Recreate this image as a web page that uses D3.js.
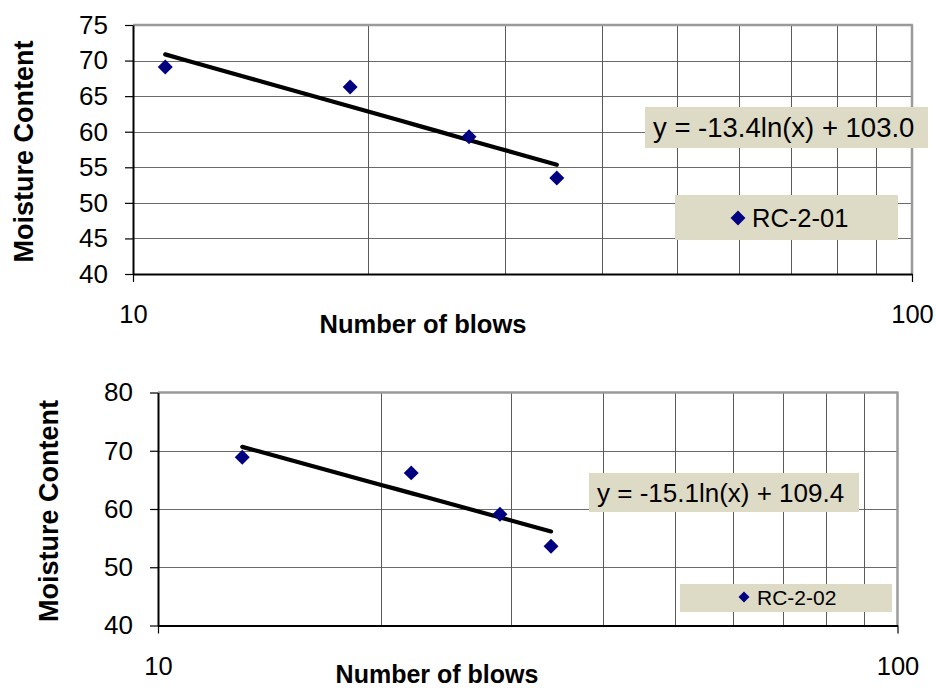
<!DOCTYPE html>
<html>
<head>
<meta charset="utf-8">
<script src="https://cdn.jsdelivr.net/npm/d3@7"></script>
<style>
  html, body { margin: 0; padding: 0; background: #ffffff; }
  svg { display: block; }
  text { font-family: Arial, "Liberation Sans", sans-serif; fill: #000; }
</style>
</head>
<body>
<svg id="chart" width="936" height="688"></svg>
<script>
// Liquid limit test results: moisture content vs number of blows (log scale)
const sampleNames = ["RC-2-01", "RC-2-02"];
const blows1 = [11, 19, 27, 35];
const moisture1 = [69.1, 66.3, 59.3, 53.5];
const blows2 = [13, 22, 29, 34];
const moisture2 = [68.9, 66.2, 59.1, 53.6];
// logarithmic trendline y = slope * ln(x) + intercept
const trendSlope = [-13.4, -15.1];
const trendIntercept = [103.0, 109.4];
const yTicks1 = [40, 45, 50, 55, 60, 65, 70, 75];
const yTicks2 = [40, 50, 60, 70, 80];
const xDomain = [10, 100];
const xTickLabels = [10, 100];
const xTitle = "Number of blows";
const yTitle = "Moisture Content";

const svg = d3.select("#chart");

const panels = [
  {
    name: sampleNames[0], blows: blows1, moisture: moisture1,
    slope: trendSlope[0], intercept: trendIntercept[0], yTicks: yTicks1,
    left: 133, right: 912, top: 25, bottom: 274,
    yTitleX: 33, xTitleX: 423, xTitleY: 333, xTitleFont: 25.5,
    eqBox: [645, 107, 283, 41], eqFont: 27.5, eqX: 653, eqY: 137,
    legBox: [675, 195, 223, 45], legFont: 25.5, legSym: [738, 218, 110], legTextX: 752, legTextY: 227
  },
  {
    name: sampleNames[1], blows: blows2, moisture: moisture2,
    slope: trendSlope[1], intercept: trendIntercept[1], yTicks: yTicks2,
    left: 158, right: 897.5, top: 392.5, bottom: 625.5,
    yTitleX: 58, xTitleX: 437, xTitleY: 682.5, xTitleFont: 25,
    eqBox: [589, 473, 270, 39], eqFont: 26, eqX: 597, eqY: 502,
    legBox: [680, 584, 212, 28], legFont: 21, legSym: [744, 597, 60], legTextX: 757, legTextY: 605
  }
];

const diamond = size => d3.symbol().type(d3.symbolSquare).size(size)();

panels.forEach(p => {
  const x = d3.scaleLog().domain(xDomain).range([p.left, p.right]);
  const y = d3.scaleLinear().domain(d3.extent(p.yTicks)).range([p.bottom, p.top]);
  const g = svg.append("g");

  // horizontal grid
  g.append("g").selectAll("line")
    .data(p.yTicks.filter(v => v > p.yTicks[0] && v < p.yTicks[p.yTicks.length - 1]))
    .join("line")
    .attr("x1", p.left).attr("x2", p.right)
    .attr("y1", d => Math.round(y(d)) + 0.5).attr("y2", d => Math.round(y(d)) + 0.5)
    .attr("stroke", "#6a6a6a").attr("stroke-width", 1);

  // vertical grid at minor log ticks
  g.append("g").selectAll("line")
    .data(x.ticks().filter(v => v > xDomain[0] && v < xDomain[1]))
    .join("line")
    .attr("x1", d => Math.round(x(d)) + 0.5).attr("x2", d => Math.round(x(d)) + 0.5)
    .attr("y1", p.top).attr("y2", p.bottom)
    .attr("stroke", "#5a5a5a").attr("stroke-width", 1);

  // plot frame: top and right in grey
  g.append("line").attr("x1", p.left).attr("x2", p.right + 1)
    .attr("y1", p.top).attr("y2", p.top)
    .attr("stroke", "#9a9a9a").attr("stroke-width", 2.5);
  g.append("line").attr("x1", p.right).attr("x2", p.right)
    .attr("y1", p.top).attr("y2", p.bottom)
    .attr("stroke", "#9a9a9a").attr("stroke-width", 2.5);

  // y axis
  const yAxis = g.append("g")
    .attr("transform", `translate(${p.left},0)`)
    .call(d3.axisLeft(y).tickValues(p.yTicks).tickSize(8).tickSizeOuter(0).tickPadding(17).tickFormat(d3.format("d")));
  yAxis.select(".domain").attr("stroke", "#000").attr("stroke-width", 2);
  yAxis.selectAll(".tick line").attr("stroke", "#000").attr("stroke-width", 1.2);
  yAxis.selectAll(".tick text").attr("font-size", 26).attr("font-family", "Arial, 'Liberation Sans', sans-serif").attr("fill", "#000");

  // x axis
  const xAxis = g.append("g")
    .attr("transform", `translate(0,${p.bottom})`)
    .call(d3.axisBottom(x).tickValues(xTickLabels).tickSize(8).tickSizeOuter(0).tickPadding(23).tickFormat(d3.format("d")));
  xAxis.select(".domain").attr("stroke", "#000").attr("stroke-width", 2.2);
  xAxis.selectAll(".tick line").attr("stroke", "#000").attr("stroke-width", 1.2);
  xAxis.selectAll(".tick text").attr("font-size", 25.5).attr("font-family", "Arial, 'Liberation Sans', sans-serif").attr("fill", "#000");

  // axis titles
  g.append("text")
    .attr("transform", `translate(${p.yTitleX},${(p.top + p.bottom) / 2 + 2}) rotate(-90)`)
    .attr("text-anchor", "middle").attr("font-weight", "bold").attr("font-size", 27)
    .text(yTitle);
  g.append("text")
    .attr("x", p.xTitleX).attr("y", p.xTitleY)
    .attr("text-anchor", "middle").attr("font-weight", "bold").attr("font-size", p.xTitleFont)
    .text(xTitle);

  // logarithmic trendline over the range of the data
  const xr = d3.extent(p.blows);
  const trendPts = d3.range(0, 21).map(i => {
    const bx = xr[0] * Math.pow(xr[1] / xr[0], i / 20);
    return [bx, p.slope * Math.log(bx) + p.intercept];
  });
  g.append("path")
    .datum(trendPts)
    .attr("d", d3.line().x(d => x(d[0])).y(d => y(d[1])))
    .attr("fill", "none").attr("stroke", "#000").attr("stroke-width", 4.2)
    .attr("stroke-linecap", "round");

  // data points
  g.append("g").selectAll("path")
    .data(p.blows.map((b, i) => [b, p.moisture[i]]))
    .join("path")
    .attr("d", diamond(112))
    .attr("transform", d => `translate(${x(d[0])},${y(d[1])}) rotate(45)`)
    .attr("fill", "#000080");

  // equation label
  g.append("rect")
    .attr("x", p.eqBox[0]).attr("y", p.eqBox[1]).attr("width", p.eqBox[2]).attr("height", p.eqBox[3])
    .attr("fill", "#dddac6");
  g.append("text")
    .attr("x", p.eqX).attr("y", p.eqY).attr("font-size", p.eqFont)
    .text(`y = ${p.slope.toFixed(1)}ln(x) + ${p.intercept.toFixed(1)}`);

  // legend
  g.append("rect")
    .attr("x", p.legBox[0]).attr("y", p.legBox[1]).attr("width", p.legBox[2]).attr("height", p.legBox[3])
    .attr("fill", "#dddac6");
  g.append("path")
    .attr("d", diamond(p.legSym[2]))
    .attr("transform", `translate(${p.legSym[0]},${p.legSym[1]}) rotate(45)`)
    .attr("fill", "#000080");
  g.append("text")
    .attr("x", p.legTextX).attr("y", p.legTextY).attr("font-size", p.legFont)
    .text(p.name);
});
</script>
</body>
</html>
